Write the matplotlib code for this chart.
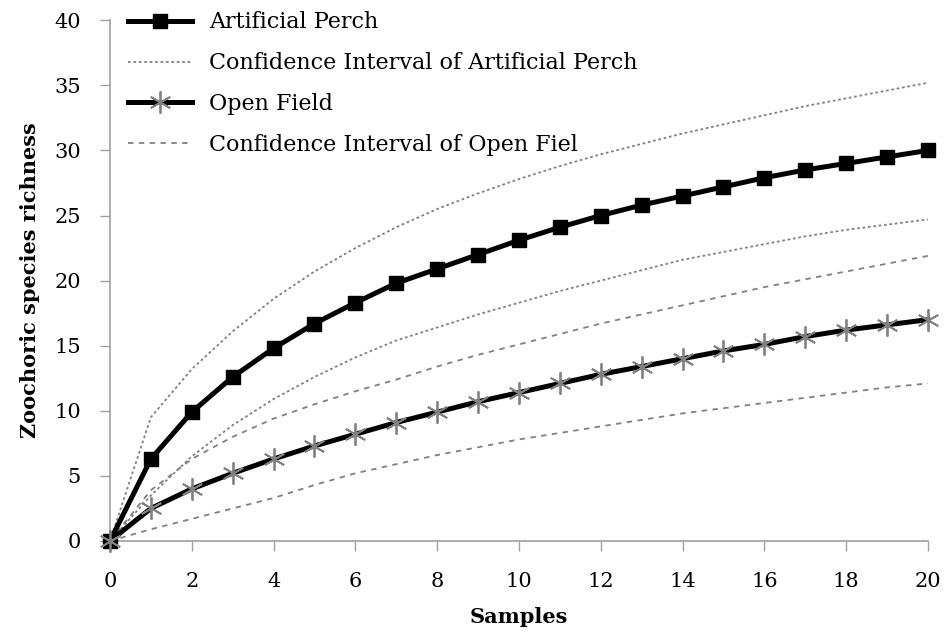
import numpy as np
import matplotlib
matplotlib.use('Agg')
import matplotlib.pyplot as plt

# rarefaction curves
samples = np.arange(0, 21)
perch = [0, 6.3, 9.9, 12.6, 14.8, 16.7, 18.3, 19.8, 20.9, 22.0, 23.1,
         24.1, 25.0, 25.8, 26.5, 27.2, 27.9, 28.5, 29.0, 29.5, 30.0]
perch_hi = [0, 9.5, 13.2, 16.1, 18.6, 20.7, 22.5, 24.1, 25.5, 26.7, 27.8,
            28.8, 29.7, 30.5, 31.3, 32.0, 32.7, 33.4, 34.0, 34.6, 35.2]
perch_lo = [0, 3.5, 6.5, 8.9, 10.9, 12.6, 14.1, 15.4, 16.4, 17.4, 18.3,
            19.2, 20.0, 20.8, 21.6, 22.2, 22.8, 23.4, 23.9, 24.3, 24.7]
field = [0, 2.5, 4.0, 5.2, 6.3, 7.3, 8.2, 9.1, 9.9, 10.7, 11.4,
         12.1, 12.8, 13.4, 14.0, 14.6, 15.1, 15.7, 16.2, 16.6, 17.0]
field_hi = [0, 3.9, 6.3, 8.0, 9.4, 10.5, 11.5, 12.4, 13.4, 14.3, 15.1,
            15.9, 16.7, 17.4, 18.1, 18.8, 19.5, 20.1, 20.7, 21.3, 21.9]
field_lo = [0, 0.9, 1.7, 2.5, 3.3, 4.3, 5.2, 5.9, 6.6, 7.2, 7.8,
            8.3, 8.8, 9.3, 9.8, 10.2, 10.6, 11.0, 11.4, 11.8, 12.1]

plt.rcParams['font.family'] = 'DejaVu Serif'

fig = plt.figure(figsize=(9.44, 6.32), dpi=100)
ax = fig.add_axes([0.1165, 0.144, 0.8665, 0.824])

grey = '#808080'
star = (6, 2, 0)

ax.plot(samples, perch, '-', color='black', lw=3.6, marker='s', ms=10,
        clip_on=False, zorder=5, label='Artificial Perch')
ax.plot(samples, perch_hi, ':', color=grey, lw=1.3, dashes=(1.5, 1.5),
        label='Confidence Interval of Artificial Perch')
ax.plot(samples, perch_lo, ':', color=grey, lw=1.3, dashes=(1.5, 1.5))
ax.plot(samples, field, '-', color='black', lw=3.6, marker=star, ms=16,
        mec=grey, mew=1.3, clip_on=False, zorder=5, label='Open Field')
ax.plot(samples, field_hi, '--', color=grey, lw=1.3, dashes=(3, 3),
        label='Confidence Interval of Open Fiel')
ax.plot(samples, field_lo, '--', color=grey, lw=1.3, dashes=(3, 3))

ax.set_xlim(0, 20)
ax.set_ylim(0, 40)
ax.set_xticks(np.arange(0, 21, 2))
ax.set_yticks(np.arange(0, 41, 5))

for s in ['top', 'right']:
    ax.spines[s].set_visible(False)
for s in ['left', 'bottom']:
    ax.spines[s].set_color('#a0a0a0')
    ax.spines[s].set_linewidth(1.2)
ax.tick_params(axis='both', direction='out', length=7, width=1.0,
               color='#a0a0a0', labelsize=15)
ax.tick_params(axis='x', pad=15)
ax.tick_params(axis='y', pad=14)

ax.set_xlabel('Samples', fontsize=15, fontweight='bold', labelpad=12)
ax.set_ylabel('Zoochoric species richness', fontsize=15, fontweight='bold',
              labelpad=10)

ax.legend(loc='upper left', bbox_to_anchor=(0.011, 1.034), frameon=False,
          fontsize=16, handlelength=2.9, handletextpad=0.77, labelspacing=0.85,
          borderaxespad=0.0)

plt.savefig('out.png', dpi=100)
